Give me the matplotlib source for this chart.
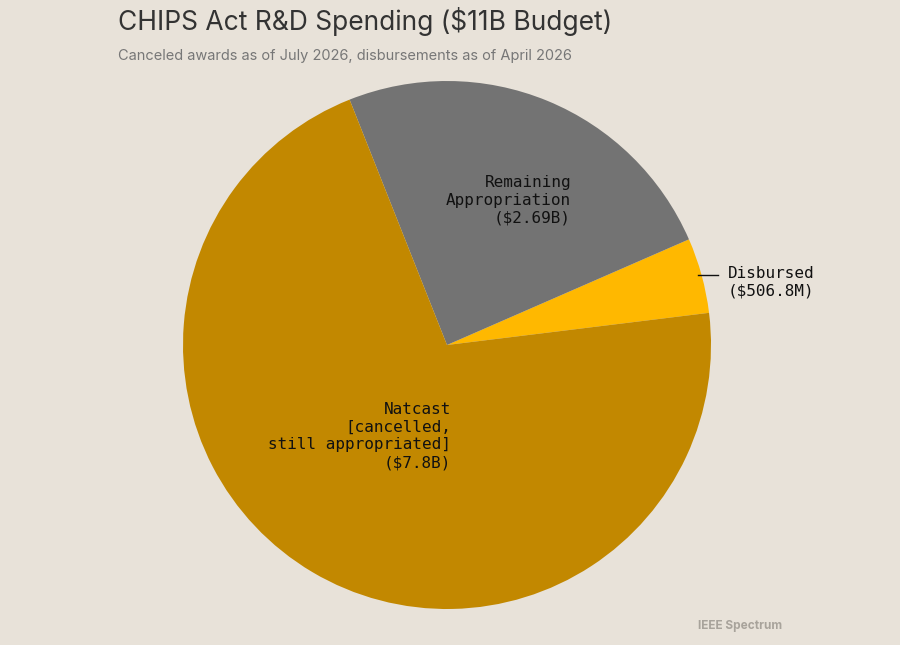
import matplotlib
matplotlib.use('Agg')
import matplotlib.pyplot as plt

labels = ["Disbursed", "Remaining Appropriation", "Natcast"]
values = [0.5068, 2.69, 7.8]
colors = ["#FFB800", "#737373", "#C28800"]

W, H = 900, 645
bg = "#E8E2D9"
fig = plt.figure(figsize=(9, 6.45), dpi=100, facecolor=bg)

# pie axes placed in pixel coords: centre (447,345), radius 264
cx, cy, r = 447, 345, 264
ax = fig.add_axes([(cx - r) / W, (H - cy - r) / H, 2 * r / W, 2 * r / H])
ax.set_facecolor(bg)
ax.pie(values, colors=colors, startangle=7, counterclock=True,
       wedgeprops=dict(linewidth=0))
ax.set_xlim(-1, 1)
ax.set_ylim(-1, 1)
ax.set_aspect('equal')
ax.axis('off')

def px(x, y):
    return x / W, 1 - y / H

mono = dict(family="DejaVu Sans Mono", fontsize=11.5, color="#111111")
fig.text(*px(571, 200), "Remaining\nAppropriation\n($2.69B)", ha="right", va="center",
         linespacing=1.25, **mono)
fig.text(*px(451, 436), "Natcast\n[cancelled,\nstill appropriated]\n($7.8B)", ha="right",
         va="center", linespacing=1.25, **mono)
fig.text(*px(728, 282), "Disbursed\n($506.8M)", ha="left", va="center",
         linespacing=1.25, **mono)
fig.add_artist(plt.Line2D([698 / W, 718 / W], [1 - 275 / H, 1 - 275 / H],
                          color="#111111", linewidth=1))

fig.text(*px(118, 22), "CHIPS Act R&D Spending ($11B Budget)", ha="left", va="center",
         fontsize=19, family="Inter", color="#333333")
fig.text(*px(118, 56), "Canceled awards as of July 2026, disbursements as of April 2026",
         ha="left", va="center", fontsize=10.5, family="Inter", color="#777777")
fig.text(*px(782, 626), "IEEE Spectrum", ha="right", va="center", fontsize=8.5,
         family="Inter", fontweight="bold", color="#a8a39b")

fig.savefig("out.png", dpi=100, facecolor=bg)
